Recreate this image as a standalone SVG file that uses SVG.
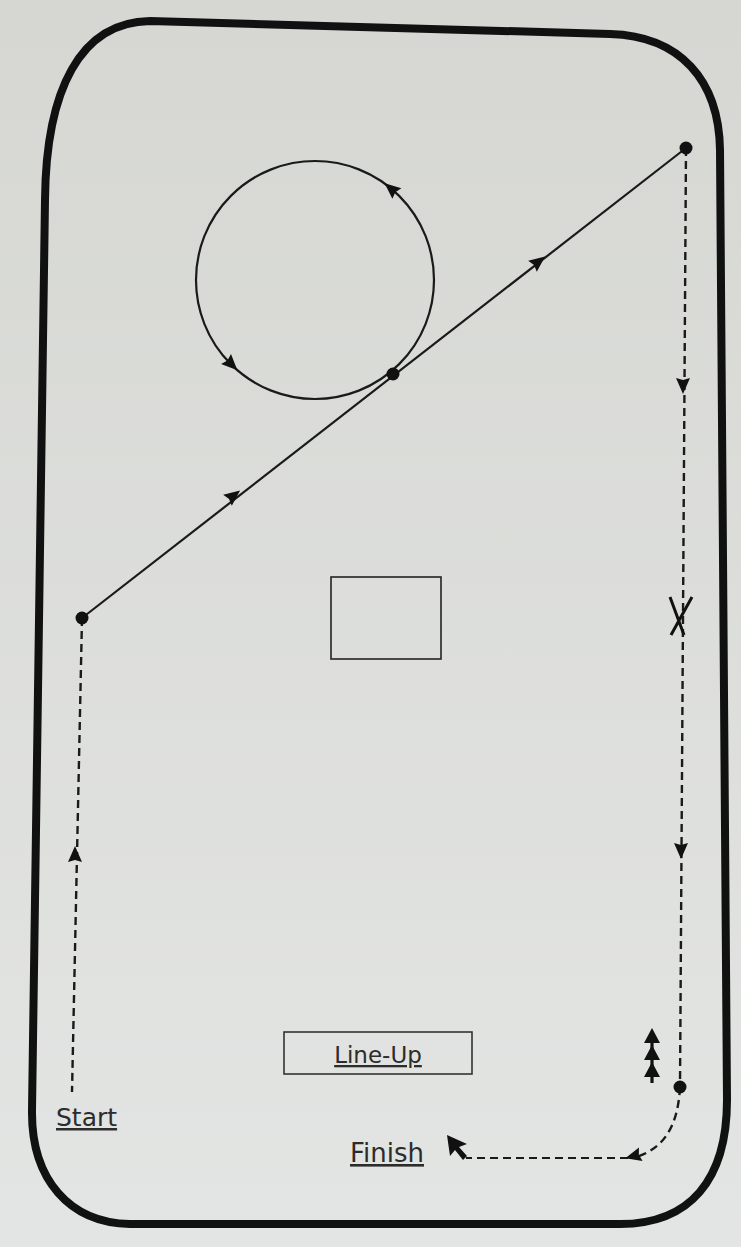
<svg xmlns="http://www.w3.org/2000/svg" xmlns:xlink="http://www.w3.org/1999/xlink" width="741" height="1247" viewBox="0 0 741 1247">
<style>
.track{fill:none;stroke:#111;stroke-width:8;stroke-linejoin:round}
.solid{fill:none;stroke:#1a1a1a;stroke-width:2.2}
.dash{fill:none;stroke:#1a1a1a;stroke-width:2.4;stroke-dasharray:8 5}
.dot{fill:#111}
.ah{fill:#111}
.box{fill:none;stroke:#222;stroke-width:1.6}
.lbl{font-family:"DejaVu Sans","Liberation Sans",sans-serif;fill:#2c2c2c;text-decoration:underline}
</style>
<defs>
<linearGradient id="bg" x1="0" y1="0" x2="0" y2="1">
<stop offset="0" stop-color="#d6d7d2"/>
<stop offset="1" stop-color="#e3e5e4"/>
</linearGradient>
<path id="arrow" d="M9 0 L-7 -7 L-5 0 L-7 7 Z"/>
</defs>
<rect width="741" height="1247" fill="url(#bg)"/>
<g id="track">
<path class="track" d="M150 21 L610 34 C680 36 719 80 720 150 L727 1100 C727 1180 690 1224 620 1224 L130 1224 C70 1223 31 1180 32 1110 L45 200 C46 90 80 22 150 21 Z"/>
</g>
<g id="connectors">
<circle class="solid" cx="315" cy="280" r="119"/>
<line class="solid" x1="82" y1="618" x2="686" y2="148"/>
<line class="dash" x1="686" y1="148" x2="680" y2="1087"/>
<line class="dash" x1="82" y1="618" x2="72" y2="1092"/>
<path class="dash" d="M680 1087 C678 1125 665 1148 636 1157"/>
<line class="dash" x1="628" y1="1158" x2="466" y2="1158" style="stroke-width:1.8"/>
<use href="#arrow" class="ah" transform="translate(391.5 189) rotate(-140)"/>
<use href="#arrow" class="ah" transform="translate(231 364) rotate(45)"/>
<use href="#arrow" class="ah" transform="translate(233 496) rotate(-37.9)"/>
<use href="#arrow" class="ah" transform="translate(538 262) rotate(-37.9)"/>
<use href="#arrow" class="ah" transform="translate(683 385) rotate(90)"/>
<use href="#arrow" class="ah" transform="translate(681 850) rotate(90)"/>
<use href="#arrow" class="ah" transform="translate(75 855) rotate(-90)"/>
<use href="#arrow" class="ah" transform="translate(634 1156) rotate(165)"/>
<path class="ah" d="M447 1135 L467 1144 L459 1147 L467 1156 L463 1160 L455 1150 L450 1156 Z"/>
</g>
<g id="marks">
<circle class="dot" cx="82" cy="618" r="6.5"/>
<circle class="dot" cx="686" cy="148" r="6.5"/>
<circle class="dot" cx="393" cy="374" r="6.5"/>
<circle class="dot" cx="680" cy="1087" r="6.5"/>
<path d="M670 597 L684 635 M692 597 L671 635" fill="none" stroke="#111" stroke-width="3"/>
<g id="triple">
<line x1="652" y1="1036" x2="652" y2="1083" stroke="#111" stroke-width="3.2"/>
<path class="ah" d="M652 1028 L660 1043 L644 1043 Z M652 1045 L660 1060 L644 1060 Z M652 1062 L660 1077 L644 1077 Z"/>
</g>
</g>
<g id="center-box">
<rect class="box" x="331" y="577" width="110" height="82"/>
</g>
<g id="lineup">
<rect class="box" x="284" y="1032" width="188" height="42" style="stroke:#333"/>
<text class="lbl" x="378" y="1063" font-size="23" text-anchor="middle">Line-Up</text>
</g>
<g id="start">
<text class="lbl" x="56" y="1126" font-size="25">Start</text>
</g>
<g id="finish">
<text class="lbl" x="350" y="1162" font-size="26">Finish</text>
</g>
</svg>
